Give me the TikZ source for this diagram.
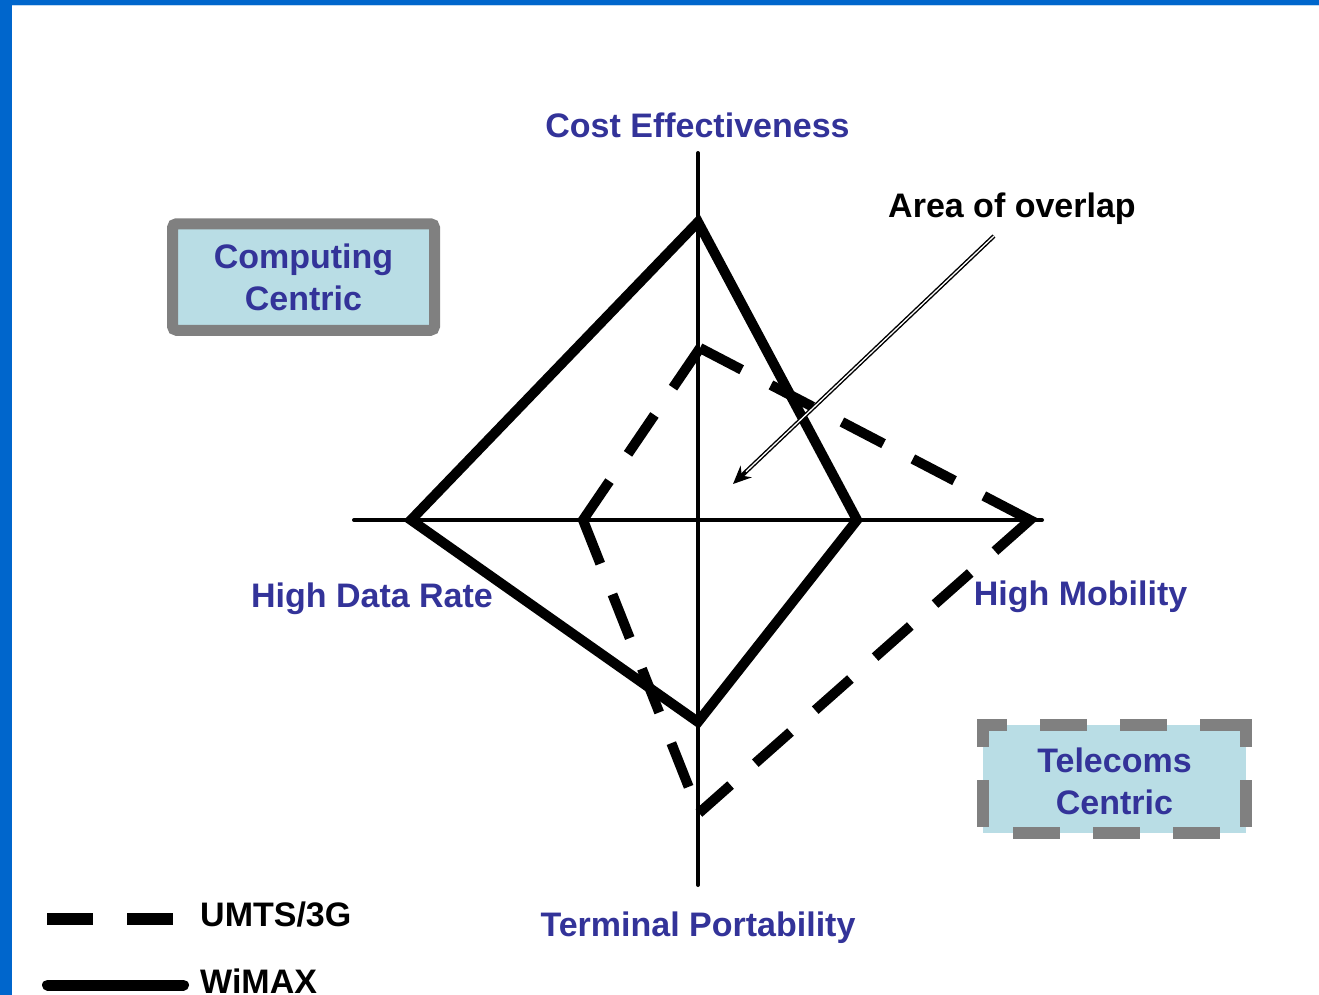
\documentclass[tikz,border=0pt]{standalone}
\usepackage{fontspec}
\setmainfont{Liberation Sans}
\usetikzlibrary{arrows.meta}
\definecolor{frameblue}{HTML}{0066CC}
\definecolor{txtblue}{HTML}{333399}
\definecolor{boxfill}{HTML}{B9DDE5}
\definecolor{boxgray}{HTML}{808080}
\tikzset{
  lbl/.style={inner sep=0pt, anchor=base, font=\fontsize{34}{41}\selectfont\bfseries, text=txtblue},
  blacklbl/.style={lbl, text=black},
  boxlbl/.style={inner sep=0pt, align=center, fill=boxfill, text=txtblue, font=\fontsize{34}{42}\selectfont\bfseries},
  axisline/.style={line width=4pt, line cap=round},
  wimax/.style={line width=10pt, line join=miter},
  umts/.style={line width=10pt, line join=miter},
  telborder/.style={draw=boxgray, line width=12pt, line cap=rect},
}
\begin{document}
\begin{tikzpicture}[x=1pt,y=-1pt]
\useasboundingbox (0,0) rectangle (1319,995);
\fill[white] (0,0) rectangle (1319,995);
% frame
\fill[frameblue] (0,0) rectangle (1319,5);
\fill[frameblue] (0,0) rectangle (12,995);
\fill[frameblue!25] (12,5) rectangle (1319,5.7);

% axes
\coordinate (axL) at (354,520);
\coordinate (axR) at (1042,520);
\coordinate (axT) at (698,153);
\coordinate (axB) at (698,885);
\draw[axisline] (axL) -- (axR);
\draw[axisline] (axT) -- (axB);

% WiMAX diamond
\coordinate (sT) at (698,222);
\coordinate (sR) at (857,520);
\coordinate (sB) at (698,722);
\coordinate (sL) at (411,520);
\draw[wimax] (sT) -- (sR) -- (sB) -- (sL) -- cycle;

% UMTS dashed
\coordinate (dT) at (700,348);
\coordinate (dR) at (1030,520);
\coordinate (dB) at (699,813);
\coordinate (dL) at (583,520);
\draw[umts, dash pattern=on 48pt off 33pt on 47pt off 33pt on 94pt off 33pt on 47pt off 33pt on 47pt off 33pt on 47pt off 40pt]
  (dT) -- (dL) -- (dB);
\draw[umts, dash pattern=on 47pt off 33pt on 47pt off 33pt on 47pt off 33pt on 47pt off 33pt on 99pt off 33pt on 47pt off 33pt on 47pt off 33pt on 47pt off 33pt on 47pt off 33pt on 47pt off 33pt]
  (dT) -- (dR) -- (dB);

% axis labels
\node[lbl] (cost) at (697.5,138) {Cost Effectiveness};
\node[lbl] (hdr) at (372,607) {High Data Rate};
\node[lbl] (hmob) at (1080.5,605) {High Mobility};
\node[lbl] (term) at (698,936) {Terminal Portability};

% overlap label and arrow
\node[blacklbl] (ovl) at (1012,217) {Area of overlap};
\coordinate (ovs) at (994,236);
\coordinate (ove) at (733,484);
\draw[line width=4.2pt, -{Stealth[length=18pt,width=16pt]}] (ovs) -- (ove);
\draw[white, line width=1.3pt, shorten >=18pt] (ovs) -- (ove);

% Computing Centric box
\node[boxlbl, draw=boxgray, line width=11pt, rounded corners=4pt, minimum width=262pt, minimum height=106.5pt] (comp) at (303.5,277) {Computing\\Centric};

% Telecoms Centric box
\node[boxlbl, minimum width=263pt, minimum height=108pt] (tel) at (1114.5,779) {};
\node[boxlbl, fill=none] (teltxt) at (1114.5,781) {Telecoms\\Centric};
\draw[telborder, dash pattern=on 35pt off 45pt, dash phase=17pt] (tel.north west) -- (tel.north east);
\draw[telborder, dash pattern=on 35pt off 45pt, dash phase=19pt] (tel.north east) -- (tel.south east);
\draw[telborder, dash pattern=on 35pt off 45pt, dash phase=44pt] (tel.south west) -- (tel.south east);
\draw[telborder, dash pattern=on 35pt off 45pt, dash phase=19pt] (tel.north west) -- (tel.south west);

% legend
\coordinate (lgU1) at (47,919);
\coordinate (lgU2) at (173,919);
\draw[line width=12pt, dash pattern=on 46pt off 34pt] (lgU1) -- (lgU2);
\node[blacklbl, anchor=base west] (lgUt) at (200,926) {UMTS/3G};
\coordinate (lgW1) at (47.5,985);
\coordinate (lgW2) at (183.5,985);
\draw[line width=11pt, line cap=round] (lgW1) -- (lgW2);
\node[blacklbl, anchor=base west] (lgWt) at (200,993) {WiMAX};
\end{tikzpicture}
\end{document}
